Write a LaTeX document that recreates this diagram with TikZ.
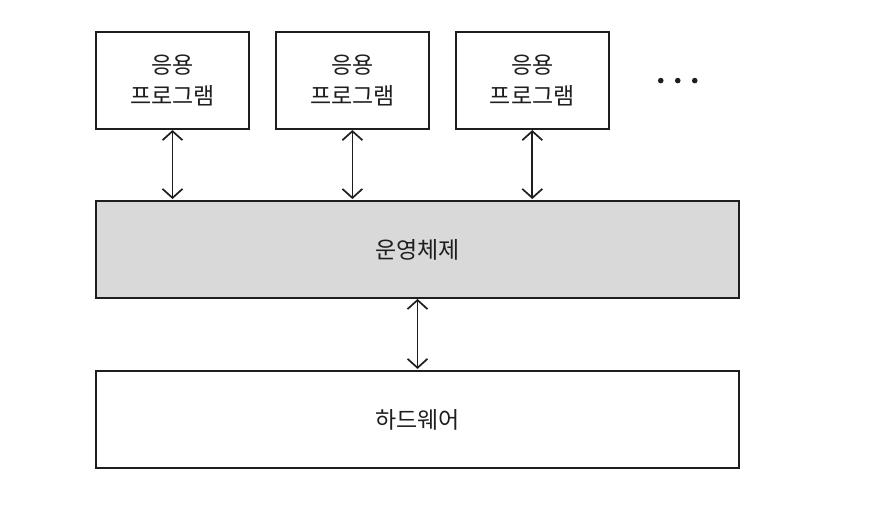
\documentclass[tikz,border=0pt]{standalone}
\usepackage{fontspec}
\usepackage{xcolor}
\usepackage{tikz}
\usetikzlibrary{arrows.meta, positioning}
\newfontfamily\krfont{Noto Sans CJK KR}
\definecolor{inkline}{RGB}{30,30,30}
\definecolor{osgray}{RGB}{217,217,217}

\begin{document}
\begin{tikzpicture}[
  x=1pt, y=1pt,
  every node/.style={draw=inkline, line width=1.9pt, font=\krfont\fontsize{23}{31}\selectfont,
    text=inkline, align=center},
  appbox/.style={minimum width=153pt, minimum height=97pt, fill=white},
  layer/.style={minimum width=643pt, minimum height=97pt},
  dblarrow/.style={{Straight Barb[length=9pt,width=20pt]}-{Straight Barb[length=9pt,width=20pt]},
    line width=1.7pt, draw=inkline, shorten >=1pt},
]
  \useasboundingbox (0,0) rectangle (894,-518);

  \node (os) [layer, fill=osgray] at (417.5,-249.5) {운영체제};
  \node (hw) [layer, fill=white, below=71pt of os] {하드웨어};

  \node (app1) [appbox, above=70pt of os.north west, anchor=south west] {응용\\프로그램};
  \node (app2) [appbox, right=25pt of app1] {응용\\프로그램};
  \node (app3) [appbox, right=25pt of app2] {응용\\프로그램};

  % more programs
  \foreach \i in {0,1,2}
    \fill[inkline] ([xshift=51pt+\i*17pt]app3.east) circle (2.8pt);

  \foreach \a in {app1, app2, app3}
    \draw[dblarrow] (\a.south) -- (\a.south |- os.north);
  \draw[dblarrow] (os) -- (hw);
\end{tikzpicture}
\end{document}
